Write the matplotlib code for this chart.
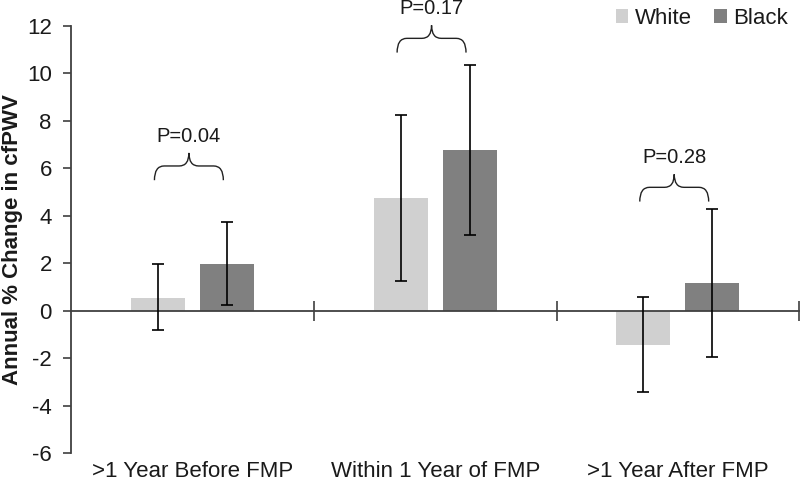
import numpy as np
import matplotlib.pyplot as plt
from matplotlib.path import Path
from matplotlib.patches import PathPatch
from matplotlib.transforms import blended_transform_factory

plt.rcParams['font.family'] = ['Liberation Sans', 'DejaVu Sans']
plt.rcParams['axes.unicode_minus'] = False

# data
categories = ['>1 Year Before FMP', 'Within 1 Year of FMP', '>1 Year After FMP']
groups = ['White', 'Black']
white_mean = [0.55, 4.75, -1.43]
white_lo = [-0.82, 1.25, -3.43]
white_hi = [1.98, 8.25, 0.56]
black_mean = [1.98, 6.77, 1.15]
black_lo = [0.25, 3.2, -1.97]
black_hi = [3.75, 10.35, 4.3]
p_labels = ['P=0.04', 'P=0.17', 'P=0.28']
brace_base = [5.5, 10.88, 4.6]   # bottom ends of the brace arms

col_white = '#d0d0d0'
col_black = '#808080'
axis_col = '#404040'
txt_col = '#1a1a1a'

fig = plt.figure(figsize=(8, 4.88), dpi=100)
ax = fig.add_axes([0.089, 0.0717, 0.91, 0.875])

x = np.arange(len(categories))
w = 0.222
off = 0.142

for xs, mean, lo, hi, col, lab in [
    (x - off, white_mean, white_lo, white_hi, col_white, groups[0]),
    (x + off, black_mean, black_lo, black_hi, col_black, groups[1]),
]:
    mean = np.array(mean)
    yerr = [mean - np.array(lo), np.array(hi) - mean]
    ax.bar(xs, mean, width=w, color=col, label=lab, zorder=2)
    ax.errorbar(xs, mean, yerr=yerr, fmt='none', ecolor='black',
                elinewidth=1.2, capsize=4, capthick=1.2, zorder=4)


def draw_brace(ax, x0, x1, yb, text):
    yh = yb + 0.6
    yp = yh + 0.55
    xm = (x0 + x1) / 2
    dx = 0.04
    verts = [(x0, yb), (x0, yh), (x0 + dx, yh),
             (xm - dx, yh), (xm, yh), (xm, yp),
             (xm, yh), (xm + dx, yh),
             (x1 - dx, yh), (x1, yh), (x1, yb)]
    codes = [Path.MOVETO, Path.CURVE3, Path.CURVE3,
             Path.LINETO, Path.CURVE3, Path.CURVE3,
             Path.CURVE3, Path.CURVE3,
             Path.LINETO, Path.CURVE3, Path.CURVE3]
    ax.add_patch(PathPatch(Path(verts, codes), fill=False, lw=1.0,
                           edgecolor='#222222', clip_on=False, zorder=5))
    ax.text(xm, yp + 0.3, text, ha='center', va='bottom', fontsize=14.5,
            color=txt_col, clip_on=False)


for i in range(len(categories)):
    draw_brace(ax, x[i] - off - 0.015, x[i] + off - 0.015, brace_base[i], p_labels[i])

ax.set_xlim(-0.5, 2.5)
ax.set_ylim(-6, 12)
ax.set_yticks(np.arange(-6, 13, 2))
ax.tick_params(axis='y', direction='out', length=6, width=1.2, color=axis_col,
               labelsize=16, labelcolor=txt_col, pad=8)

ax.spines['top'].set_visible(False)
ax.spines['right'].set_visible(False)
ax.spines['left'].set_color(axis_col)
ax.spines['left'].set_linewidth(1.3)
ax.spines['bottom'].set_position(('data', 0))
ax.spines['bottom'].set_color(axis_col)
ax.spines['bottom'].set_linewidth(1.3)
ax.set_xticks([0.5, 1.5, 2.5])
ax.set_xticklabels([])
ax.tick_params(axis='x', direction='inout', length=14, width=1.2, color=axis_col)

trans = blended_transform_factory(ax.transData, ax.transAxes)
for xi, lab in zip(x, categories):
    ax.text(xi, -0.018, lab, transform=trans, ha='center', va='top',
            fontsize=16, color=txt_col)

ax.set_ylabel('Annual % Change in cfPWV', fontsize=16, fontweight='bold',
              color=txt_col)
ax.yaxis.set_label_coords(-0.066, 0.5)

fig.legend(loc='upper right', bbox_to_anchor=(1.01, 1.025), ncol=2, frameon=False,
           fontsize=16, handlelength=0.55, handleheight=0.55, handletextpad=0.3,
           columnspacing=1.0, labelcolor=txt_col)

fig.savefig('out.png', dpi=100)
